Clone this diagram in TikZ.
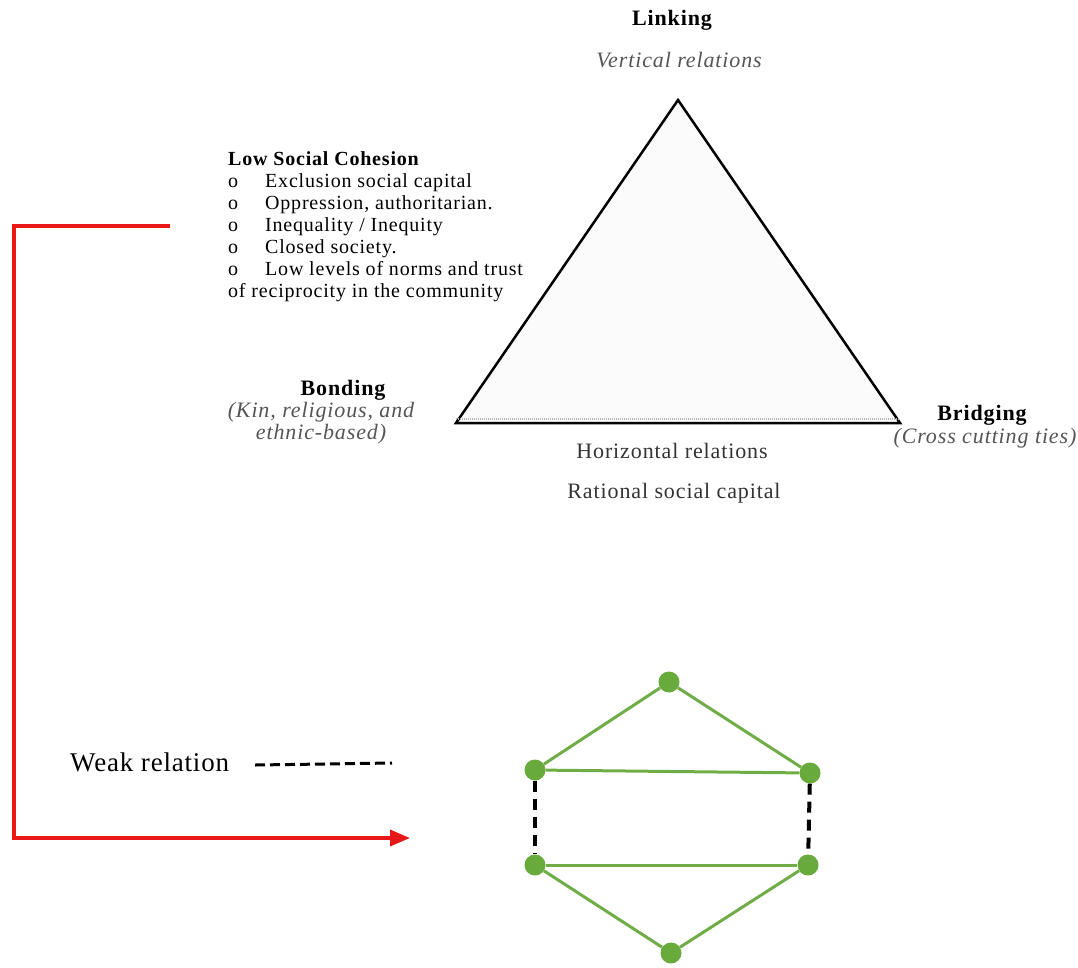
\documentclass[tikz,border=0pt]{standalone}
\usepackage{fontspec}
\setmainfont{Liberation Serif}[LetterSpace=4]
\usetikzlibrary{arrows.meta}
\definecolor{netgreen}{RGB}{112,173,71}
\definecolor{dotgreen}{RGB}{104,170,60}
\definecolor{redline}{RGB}{232,24,24}
\definecolor{subgray}{RGB}{85,85,85}
\tikzset{
  txt/.style={inner sep=0pt, font=\fontsize{22}{25}\selectfont},
  headtxt/.style={txt, font=\fontsize{22}{25}\selectfont\bfseries},
  subtxt/.style={txt, text=subgray, font=\fontsize{22}{22}\selectfont\itshape, align=center},
  netnode/.style={circle, fill=dotgreen, minimum size=21pt, inner sep=0pt},
  strongtie/.style={draw=netgreen, line width=3pt},
  weaktie/.style={draw=black, line width=4pt, dash pattern=on 11pt off 7pt},
  redarrow/.style={draw=redline, line width=3.5pt, -{Triangle[length=20pt,width=16pt]}},
  tri/.style={draw=black, line width=2.5pt, fill=gray!3, line join=miter}
}
\begin{document}
\begin{tikzpicture}[x=1pt,y=-1pt]
\useasboundingbox (0,0) rectangle (1078,967);
% triangle
\coordinate (apex) at (678,100);
\coordinate (bl) at (456,423);
\coordinate (br) at (900,423);
\draw[tri] (apex) -- (br) -- (bl) -- cycle;
\draw[gray!60, line width=1.5pt, dash pattern=on 1pt off 1pt] ([yshift=4pt]bl) -- ([yshift=4pt]br);
% labels
\node[headtxt] (linking) at (672,20) {Linking};
\node[subtxt] (vert) at (679,60) {Vertical relations};
\node[headtxt] (bonding) at (343,390) {Bonding};
\node[subtxt] (kin) at (321,423) {(Kin, religious, and\\ethnic-based)};
\node[headtxt] (bridging) at (982,415) {Bridging};
\node[subtxt] (cross) at (985,438) {(Cross cutting ties)};
\node[txt, text=black!80] (horiz) at (672,451) {Horizontal relations};
\node[txt, text=black!80] (rational) at (674,493) {Rational social capital};
% low social cohesion list
\node[inner sep=0pt, anchor=north west, align=left, font=\fontsize{20}{22}\selectfont] (lsc) at (228,151)
 {\textbf{Low Social Cohesion}\\
  \makebox[37pt][l]{o}Exclusion social capital\\
  \makebox[37pt][l]{o}Oppression, authoritarian.\\
  \makebox[37pt][l]{o}Inequality / Inequity\\
  \makebox[37pt][l]{o}Closed society.\\
  \makebox[37pt][l]{o}Low levels of norms and trust\\
  of reciprocity in the community};
% red arrow
\coordinate (redstart) at (170,226);
\coordinate (redcorner) at (14,838);
\coordinate (redend) at (410,838);
\draw[redarrow] (redstart) -| (redcorner) -- (redend);
% weak relation legend
\node[txt, anchor=west, font=\fontsize{27}{30}\selectfont\addfontfeature{LetterSpace=3}] (weak) at (70,762) {Weak relation};
\coordinate (wr1) at (255,765);
\coordinate (wr2) at (392,763);
\draw[draw=black, line width=3pt, dash pattern=on 10pt off 5pt] (wr1) -- (wr2);
% network
\node[netnode] (top) at (669,682) {};
\node[netnode] (ml) at (535,770) {};
\node[netnode] (mr) at (810,773) {};
\node[netnode] (lbl) at (535,865) {};
\node[netnode] (lbr) at (808,865) {};
\node[netnode] (bot) at (671,953) {};
\draw[strongtie] (top) -- (ml);
\draw[strongtie] (top) -- (mr);
\draw[strongtie] (ml) -- (mr);
\draw[strongtie] (lbl) -- (lbr);
\draw[strongtie] (lbl) -- (bot);
\draw[strongtie] (lbr) -- (bot);
\draw[weaktie] (ml) -- (lbl);
\draw[weaktie] (mr) -- (lbr);
\end{tikzpicture}
\end{document}
